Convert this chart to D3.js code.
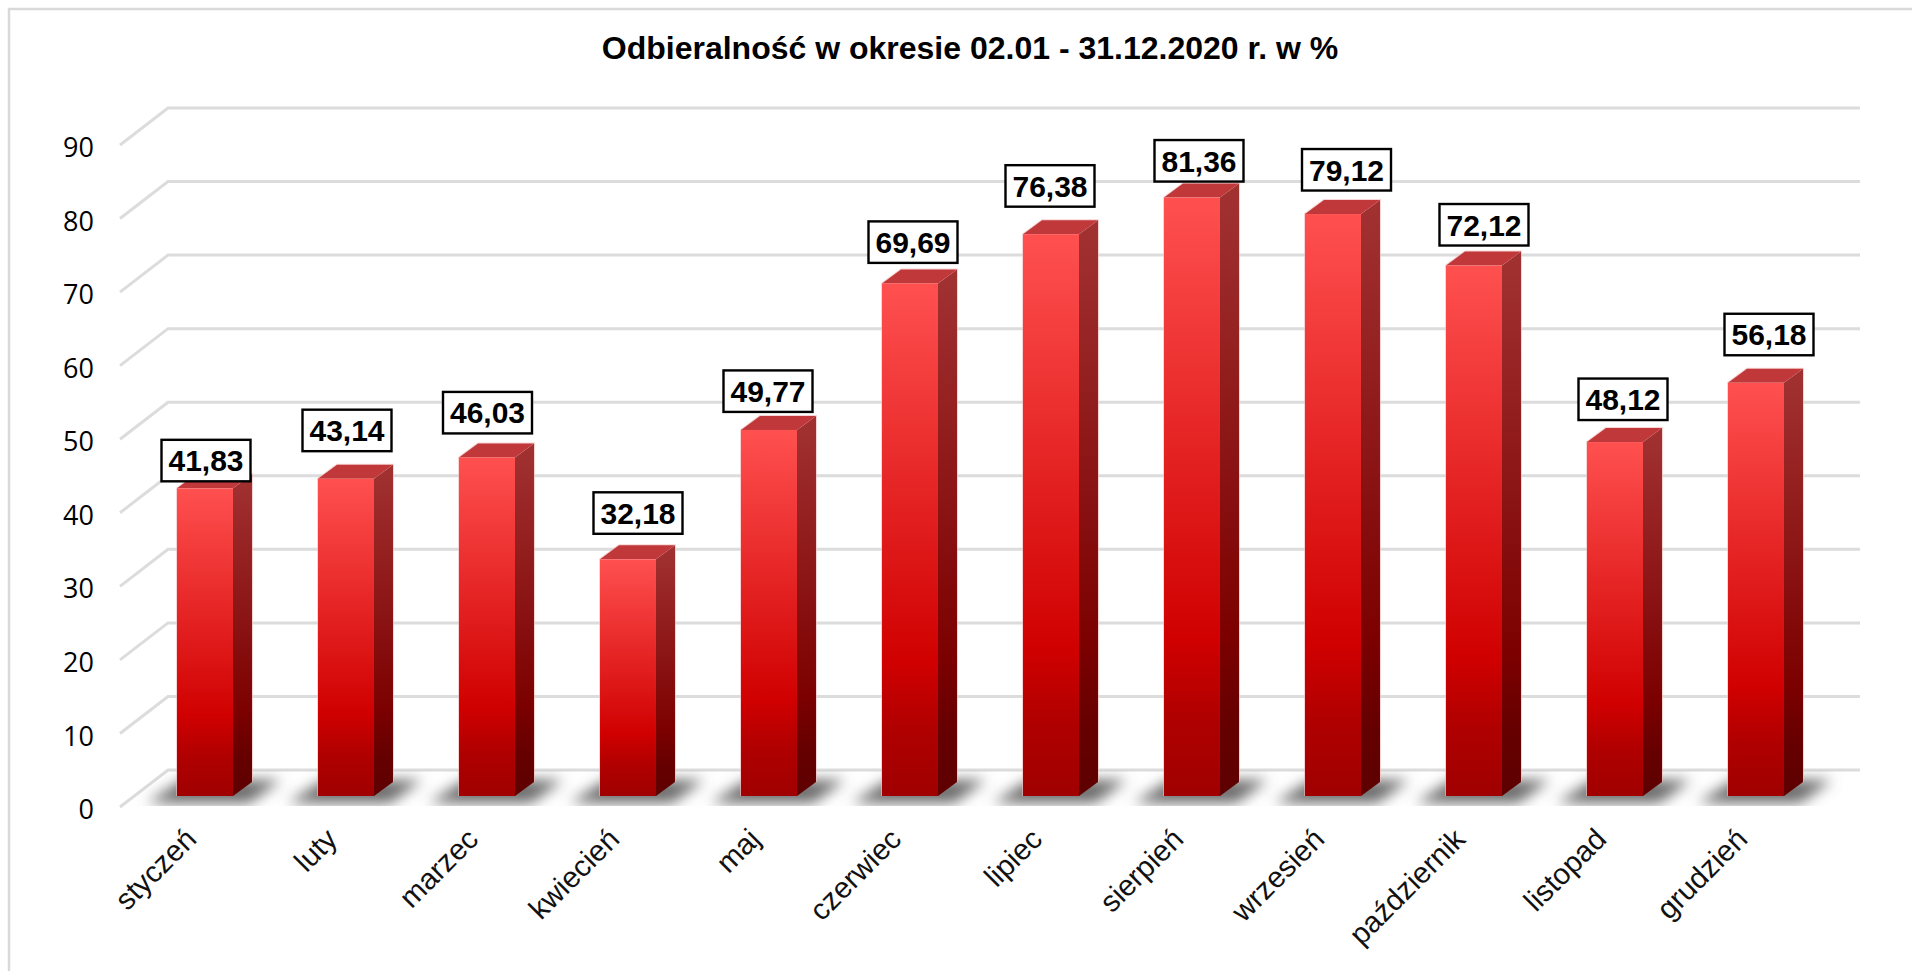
<!DOCTYPE html>
<html lang="pl">
<head>
<meta charset="utf-8">
<script src="https://cdn.jsdelivr.net/npm/d3@7"></script>
<style>
html,body{margin:0;padding:0;background:#fff;overflow:hidden}
svg{display:block}
</style>
</head>
<body>
<svg id="chart" width="1912" height="971"></svg>
<script>
const titleText = "Odbieralność w okresie 02.01 - 31.12.2020 r. w %";
const categories = ["styczeń","luty","marzec","kwiecień","maj","czerwiec","lipiec","sierpień","wrzesień","październik","listopad","grudzień"];
const values = [41.83,43.14,46.03,32.18,49.77,69.69,76.38,81.36,79.12,72.12,48.12,56.18];
const yTicks = [0,10,20,30,40,50,60,70,80,90];
// manual placement of the data label boxes, relative to the top centre of each bar
const labelShiftX = [1,1,0.5,10,-1,3,-1,7,13.5,10,8,13];
const labelLift = [7,27.5,24,25.5,18,20.5,27.5,16,23.5,20,22,27.5];

const W = 1912, H = 971;
const svg = d3.select("#chart");

// plot geometry: front plane of the 3D box and its depth vector
const front = {left:120, right:1812, bottom:807, top:145};
const depth = {dx:48, dy:-37};
const barDepth = {dx:19, dy:-14};
const barOffset = {dx:14.5, dy:-11};

const y = d3.scaleLinear().domain([0,90]).range([front.bottom, front.top]);
const x = d3.scaleBand().domain(categories).range([front.left, front.right])
  .paddingInner(0.603).paddingOuter(0.3015);

const defs = svg.append("defs");
function grad(id, stops){
  const g = defs.append("linearGradient").attr("id",id).attr("x1",0).attr("y1",0).attr("x2",0).attr("y2",1);
  stops.forEach(([o,c])=>g.append("stop").attr("offset",o).attr("stop-color",c));
}
grad("frontFace",[[0,"#ff5050"],[0.74,"#d00000"],[0.87,"#b00000"],[1,"#a00000"]]);
grad("sideFace",[[0,"#a23232"],[0.74,"#7c0000"],[0.88,"#660000"],[1,"#5e0000"]]);
const blur = defs.append("filter").attr("id","soft").attr("x","-40%").attr("y","-100%").attr("width","180%").attr("height","300%");
blur.append("feGaussianBlur").attr("stdDeviation",7);
defs.append("clipPath").attr("id","floor").append("polygon")
  .attr("points",[[front.left,front.bottom-1],[front.right+30,front.bottom-1],
                  [front.right+depth.dx,front.bottom+depth.dy],[front.left+depth.dx,front.bottom+depth.dy]].join(" "));

// chart frame: only the top and left edges are visible
svg.append("path").attr("d",`M9,${H}V9H${W}`).attr("fill","none").attr("stroke","#d9d9d9").attr("stroke-width",2.5);

// title
svg.append("text").attr("x",970).attr("y",59).attr("text-anchor","middle")
  .attr("font-family","'Liberation Sans'").attr("font-weight",700).attr("font-size",32).attr("fill","#000")
  .text(titleText);

// gridlines (side wall + back wall)
svg.append("g").selectAll("path").data(yTicks).join("path")
  .attr("d",d=>`M${front.left},${y(d)}L${front.left+depth.dx},${y(d)+depth.dy}H${front.right+depth.dx}`)
  .attr("fill","none").attr("stroke","#dcdcdc").attr("stroke-width",3);

// y axis
const yAxis = svg.append("g").attr("transform",`translate(${front.left-26},3)`)
  .call(d3.axisLeft(y).tickValues(yTicks).tickSize(0).tickPadding(0).tickFormat(d3.format("d")));
yAxis.select(".domain").remove();
yAxis.selectAll("text").attr("font-family","'Open Sans'").attr("font-size",27).attr("fill","#000");

// floor shadows
const shadows = svg.append("g").attr("clip-path","url(#floor)");
shadows.selectAll("polygon").data(categories).join("polygon")
  .attr("points",d=>{
    const l = x(d)+barOffset.dx, b = y(0);
    return [[l-30,b-4],[l+72,b-4],[l+104,b-27],[l+6,b-27]].join(" ");
  })
  .attr("fill","#6a6a6a").attr("filter","url(#soft)");

// bars
const bars = svg.append("g").selectAll("g").data(categories.map((c,i)=>({c,v:values[i],i}))).join("g");
const L = d=>x(d.c)+barOffset.dx, R = d=>L(d)+x.bandwidth();
const B = y(0)+barOffset.dy, T = d=>y(d.v)+barOffset.dy;
bars.append("path").attr("fill","none").attr("stroke","#f3b8b8").attr("stroke-width",2).attr("stroke-opacity",0.6)
  .attr("d",d=>`M${L(d)},${B}V${T(d)}L${L(d)+barDepth.dx},${T(d)+barDepth.dy}H${R(d)+barDepth.dx}V${B+barDepth.dy}`);
bars.append("polygon").attr("fill","url(#sideFace)")
  .attr("points",d=>[[R(d),T(d)],[R(d)+barDepth.dx,T(d)+barDepth.dy],[R(d)+barDepth.dx,B+barDepth.dy],[R(d),B]].join(" "));
bars.append("polygon").attr("fill","#c0383a")
  .attr("points",d=>[[L(d),T(d)],[L(d)+barDepth.dx,T(d)+barDepth.dy],[R(d)+barDepth.dx,T(d)+barDepth.dy],[R(d),T(d)]].join(" "));
bars.append("rect").attr("fill","url(#frontFace)")
  .attr("x",L).attr("y",T).attr("width",x.bandwidth()).attr("height",d=>B-T(d));

// data labels
const boxW = 89, boxH = 41.5;
const labels = svg.append("g").selectAll("g").data(categories.map((c,i)=>({c,v:values[i],i}))).join("g")
  .attr("transform",d=>`translate(${L(d)+x.bandwidth()/2+labelShiftX[d.i]},${T(d)-labelLift[d.i]})`);
labels.append("rect").attr("x",-boxW/2).attr("y",-boxH).attr("width",boxW).attr("height",boxH)
  .attr("fill","#fff").attr("stroke","#000").attr("stroke-width",2.4);
labels.append("text").attr("y",-10).attr("text-anchor","middle")
  .attr("font-family","'Liberation Sans'").attr("font-weight",700).attr("font-size",30).attr("fill","#000")
  .text(d=>d.v.toFixed(2).replace(".",","));

// category axis
const xAxis = svg.append("g").attr("transform",`translate(0,${front.bottom})`)
  .call(d3.axisBottom(x).tickSize(0).tickPadding(0));
xAxis.select(".domain").remove();
xAxis.selectAll("text")
  .attr("font-family","'Liberation Sans'").attr("font-size",29.5).attr("fill","#111")
  .attr("text-anchor","end").attr("dy",0)
  .attr("transform",`translate(${barOffset.dx-7},34) rotate(-45)`);
</script>
</body>
</html>
